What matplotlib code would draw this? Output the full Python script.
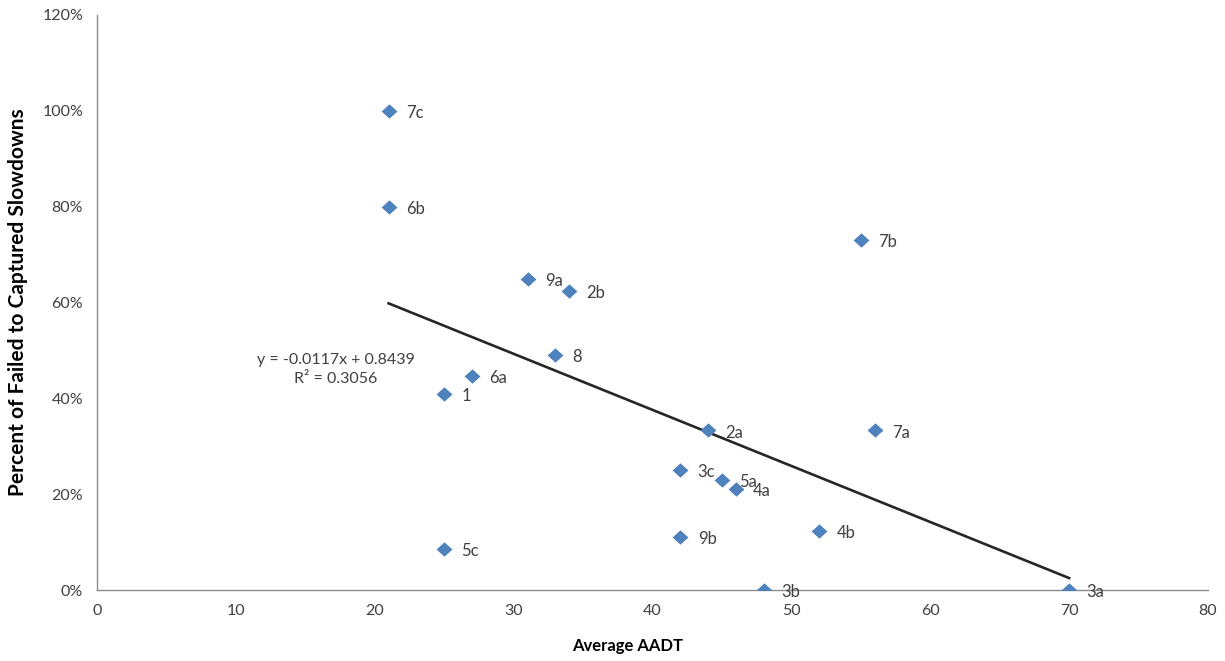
import matplotlib
matplotlib.use("Agg")
import matplotlib.pyplot as plt
from matplotlib.ticker import FuncFormatter
import numpy as np

labels = ["7c", "6b", "7b", "9a", "2b", "8", "6a", "1", "2a", "7a",
          "3c", "5a", "4a", "4b", "9b", "5c", "3b", "3a"]
aadt = [21, 21, 55, 31, 34, 33, 27, 25, 44, 56, 42, 45, 46, 52, 42, 25, 48, 70]
pct = [1.00, 0.80, 0.73, 0.65, 0.625, 0.49, 0.447, 0.41, 0.333, 0.333,
       0.25, 0.23, 0.21, 0.123, 0.11, 0.086, 0.0, 0.0]
slope = -0.0117
intercept = 0.8439
r2 = 0.3056
x_ticks = [0, 10, 20, 30, 40, 50, 60, 70, 80]
y_ticks = [0, 0.2, 0.4, 0.6, 0.8, 1.0, 1.2]

plt.rcParams['font.family'] = ['Lato', 'DejaVu Sans']
txt = '#404040'

fig = plt.figure(figsize=(12.25, 6.61), dpi=100)
ax = fig.add_axes([97/1225, 71/661, 1111/1225, 575/661])

# trendline
xt = np.array([min(aadt), max(aadt)])
ax.plot(xt, slope * xt + intercept, color='#262626', lw=1.9, zorder=2)

diamond = [(-1.1, 0), (0, 1), (1.1, 0), (0, -1), (-1.1, 0)]
ax.scatter(aadt, pct, marker=diamond, s=130, color='#4F81BD', zorder=3, linewidths=0)
for x, y, l in zip(aadt, pct, labels):
    ax.annotate(l, (x, y), xytext=(12.5, -1.5), textcoords='offset points',
                fontsize=12, color=txt, va='center', ha='left')

ax.text(17.2, 0.461, f"y = {slope}x + {intercept}\nR² = {r2}", ha='center', va='center',
        fontsize=11.5, color=txt, linespacing=1.45, multialignment='center')

ax.set_xlim(0, 80)
ax.set_ylim(0, 1.2)
ax.set_xticks(x_ticks)
ax.set_yticks(y_ticks)
ax.yaxis.set_major_formatter(FuncFormatter(lambda v, p: f"{v*100:.0f}%"))
ax.tick_params(length=0, labelsize=11.5, labelcolor=txt, pad=10)
for s in ['top', 'right']:
    ax.spines[s].set_visible(False)
for s in ['left', 'bottom']:
    ax.spines[s].set_color('#8c8c8c')
    ax.spines[s].set_linewidth(1)

ax.set_xlabel('Average AADT', fontsize=12, fontweight='bold', color='black')
ax.xaxis.set_label_coords(0.478, -0.083)
ax.set_ylabel('Percent of Failed to Captured Slowdowns', fontsize=15, fontweight='bold',
              color='black', labelpad=10)

fig.savefig('out.png', dpi=100)
